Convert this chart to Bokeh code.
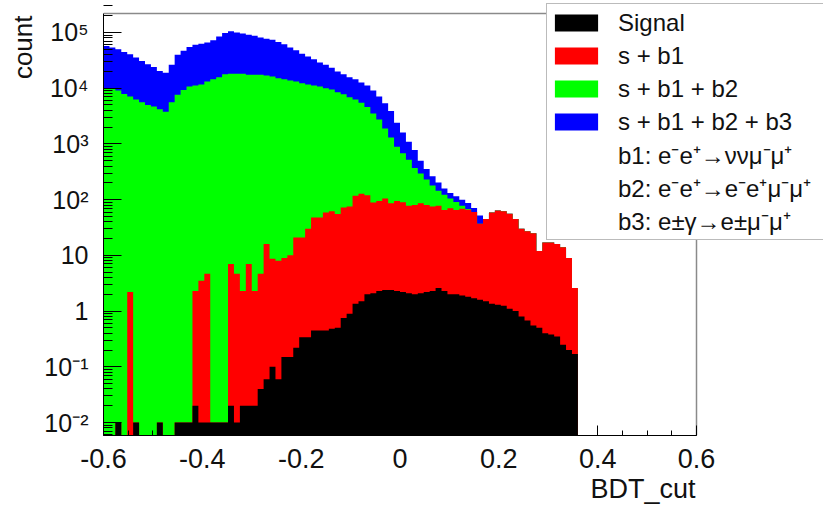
import numpy as np
from bokeh.plotting import figure
from bokeh.models import (FixedTicker, Legend, LegendItem, Title,
                          CustomJSTickFormatter)
from bokeh.embed import file_html
from bokeh.resources import INLINE

# ---------------- data ----------------
bin_lo = -0.6
bin_hi = 0.36
n_bins = 80

series_labels = ["Signal", "s + b1", "s + b1 + b2", "s + b1 + b2 + b3"]
note_labels = ["b1: e\u207be\u207a\u2192\u03bd\u03bd\u03bc\u207b\u03bc\u207a",
               "b2: e\u207be\u207a\u2192e\u207be\u207a\u03bc\u207b\u03bc\u207a",
               "b3: e\u00b1\u03b3\u2192e\u00b1\u03bc\u207b\u03bc\u207a"]

signal = [0, 0, 0.01, 0, 0, 0.01, 0, 0, 0, 0.01,
          0, 0, 0.01, 0.01, 0.01, 0.02, 0.01, 0.01, 0.01, 0.01,
          0.01, 0.02, 0.01, 0.02, 0.02, 0.02, 0.04, 0.06, 0.1, 0.06,
          0.15, 0.15, 0.22, 0.34, 0.34, 0.45, 0.45, 0.45, 0.48, 0.5,
          0.75, 0.9, 1.35, 1.5, 2.0, 2.1, 2.3, 2.4, 2.4, 2.3,
          2.2, 2.1, 2.0, 2.1, 2.2, 2.3, 2.6, 2.3, 2.0, 2.0,
          1.9, 1.8, 1.7, 1.6, 1.5, 1.35, 1.3, 1.25, 1.1, 1.0,
          0.8, 0.68, 0.55, 0.5, 0.4, 0.38, 0.35, 0.25, 0.2, 0.17]

s_b1 = [0, 0, 0.01, 0, 2.2, 0.01, 0, 0, 0, 0.01,
        0, 0, 0.01, 0.01, 0.01, 2.3, 3.5, 4.7, 0.01, 0.01,
        0.01, 7, 4.7, 2.3, 7, 2.3, 4.7, 16, 8.7, 8,
        9, 10, 21, 21, 30, 48, 48, 59, 62, 55,
        72, 75, 118, 128, 120, 89, 95, 105, 86, 95,
        90, 78, 80, 86, 80, 75, 78, 65, 70, 65,
        69, 66, 60, 37, 45, 59, 64, 62, 56, 45,
        30, 27, 25, 12, 17, 17, 16, 14, 9, 2.6]

s_b1_b2 = [10000, 10000, 9100, 7900, 7100, 6300, 5600, 5000, 4700, 4200,
           3800, 5600, 7600, 9300, 10700, 11200, 11700, 13200, 14500, 15800,
           17800, 18200, 18200, 18200, 17400, 17400, 17400, 17000, 16200, 15100,
           14500, 13800, 13200, 12300, 11700, 11200, 10700, 10000, 9500, 8500,
           7800, 6900, 6300, 5500, 4600, 3500, 2750, 1900, 1300, 890,
           680, 520, 370, 295, 230, 180, 145, 123, 105, 91,
           78, 68, 60, 37, 45, 59, 64, 62, 56, 45,
           30, 27, 25, 12, 17, 17, 16, 14, 9, 2.6]

s_b1_b2_b3 = [57500, 53700, 50000, 44700, 40700, 35500, 30900, 26900, 24000, 20400,
              19000, 26300, 39800, 46800, 55000, 60300, 63100, 66100, 72400, 85100,
              97700, 105000, 100000, 95500, 91200, 87100, 81300, 77600, 74100, 67600,
              61700, 53700, 47900, 41700, 37200, 33100, 28800, 26300, 23400, 20000,
              17800, 15800, 14500, 12600, 11200, 9100, 7100, 5400, 3900, 2400,
              1600, 1100, 780, 500, 355, 263, 204, 158, 132, 115,
              100, 87, 71, 52, 45, 59, 64, 62, 56, 45,
              30, 27, 25, 12, 17, 17, 16, 14, 9, 2.6]

xtick_values = [-0.6, -0.4, -0.2, 0.0, 0.2, 0.4, 0.6]
xtick_labels = ["-0.6", "-0.4", "-0.2", "0", "0.2", "0.4", "0.6"]
ytick_values = [1e-2, 1e-1, 1, 10, 1e2, 1e3, 1e4, 1e5]
ytick_labels = ["10\u207b\u00b2", "10\u207b\u00b9", "1", "10",
                "10\u00b2", "10\u00b3", "10\u2074", "10\u2075"]

# ---------------- geometry ----------------
W, H = 823, 510
FL, FR_AX, FT_AX, FB = 103, 696, 13, 435      # axes box (px)
x_lo, x_hi = -0.6, 0.6
log_lo, log_hi = -2.233, 5.341
# the drawing frame is extended right/top so the legend box is not clipped
px_per_x = (FR_AX - FL) / (x_hi - x_lo)
px_per_dec = (FB - FT_AX) / (log_hi - log_lo)
frame_right = W
frame_top = 0
x_ext = x_lo + (frame_right - FL) / px_per_x
log_ext = log_hi + (FT_AX - frame_top) / px_per_dec
ymin, ytop = 10 ** log_lo, 10 ** log_hi

FONT = "Liberation Sans"
TXT = "#111111"
p = figure(width=W, height=H, x_range=(x_lo, x_ext), y_range=(ymin, 10 ** log_ext),
           y_axis_type="log", output_backend="svg", toolbar_location=None,
           min_border_left=FL, min_border_right=0, min_border_top=frame_top,
           min_border_bottom=H - FB)
p.xgrid.visible = False
p.ygrid.visible = False
p.outline_line_color = None
p.background_fill_color = "white"
p.border_fill_color = "white"

edges = np.linspace(bin_lo, bin_hi, n_bins + 1)
floor = 1e-4


def step_vals(vals):
    ys = [v if v > 0 else floor for v in vals]
    return ys + [ys[-1]]


colors = ["#000000", "#ff0000", "#00ff00", "#0000ff"]
all_series = [signal, s_b1, s_b1_b2, s_b1_b2_b3]
renderers = {}
for idx in [3, 2, 1, 0]:
    r = p.varea_step(x=list(edges), y1=[floor] * (n_bins + 1), y2=step_vals(all_series[idx]),
                     step_mode="after", fill_color=colors[idx], fill_alpha=1.0)
    renderers[idx] = r

# top and right borders of the axes box (ROOT frame)
p.segment(x0=[x_lo, x_hi], y0=[ytop, ymin], x1=[x_hi, x_hi], y1=[ytop, ytop],
          line_color="#8a8a8a", line_width=1.5)

dummy = p.varea_step(x=[0, 0.001], y1=[1, 1], y2=[1, 1], step_mode="after",
                     fill_alpha=0.0)

# ---------------- axes ----------------
xax = p.xaxis[0]
xax.bounds = (x_lo, x_hi)
xax.ticker = FixedTicker(ticks=xtick_values,
                         minor_ticks=list(np.round(np.arange(-0.6, 0.6001, 0.05), 3)))
xax.formatter = CustomJSTickFormatter(args=dict(vals=xtick_values, labs=xtick_labels), code="""
let best = 0; let d = 1e9;
for (let i = 0; i < vals.length; i++) { const dd = Math.abs(vals[i] - tick); if (dd < d) { d = dd; best = i; } }
return labs[best];
""")
xax.major_tick_in = 10
xax.major_tick_out = 0
xax.minor_tick_in = 5
xax.minor_tick_out = 0
xax.major_label_standoff = 13
xax.major_label_text_font = FONT
xax.major_label_text_font_size = "27px"
xax.major_label_text_color = TXT
xax.axis_line_color = "black"

yax = p.yaxis[0]
yax.bounds = (ymin, ytop)
ymin_t = [k * 10.0 ** e for e in range(-3, 6) for k in range(2, 10)]
yax.ticker = FixedTicker(ticks=ytick_values, minor_ticks=ymin_t)
yax.formatter = CustomJSTickFormatter(args=dict(vals=ytick_values, labs=ytick_labels), code="""
let best = 0; let d = 1e9;
for (let i = 0; i < vals.length; i++) { const dd = Math.abs(Math.log10(vals[i]) - Math.log10(tick)); if (dd < d) { d = dd; best = i; } }
return labs[best];
""")
yax.major_tick_in = 18
yax.major_tick_out = 0
yax.minor_tick_in = 9
yax.minor_tick_out = 0
yax.major_label_standoff = 15
yax.major_label_text_font = FONT
yax.major_label_text_font_size = "25px"
yax.major_label_text_color = TXT
yax.axis_line_color = "black"

# axis titles (ROOT style: right/top aligned)
p.add_layout(Title(text="count", align="right", offset=15, text_font=FONT,
                   text_font_size="26px", text_font_style="normal",
                   text_color=TXT, standoff=7), "left")
p.add_layout(Title(text="BDT_cut", align="right", offset=(frame_right - FR_AX) + 1,
                   text_font=FONT, text_font_size="27px", text_font_style="normal",
                   text_color=TXT, standoff=2), "below")

# ---------------- legend ----------------
items = [LegendItem(label=series_labels[i], renderers=[renderers[i]]) for i in range(4)]
items += [LegendItem(label=t, renderers=[dummy]) for t in note_labels]
legend = Legend(items=items, location=(546 - FL, FB - 240), orientation="vertical",
                glyph_width=54, glyph_height=21, label_standoff=15,
                label_text_font=FONT, label_text_font_size="24px",
                label_text_color=TXT, label_height=33, label_width=215,
                spacing=0, padding=2, margin=0,
                border_line_color="#777777", border_line_width=1.5,
                background_fill_color="white", background_fill_alpha=1.0)
p.add_layout(legend)

open("out.html", "w").write(file_html(p, INLINE))
